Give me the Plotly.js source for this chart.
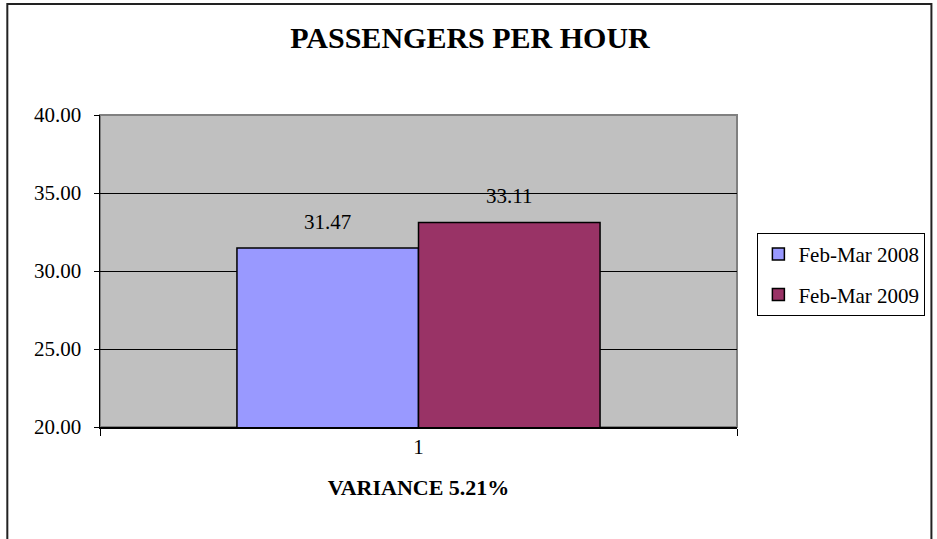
<!DOCTYPE html>
<html>
<head>
<meta charset="utf-8">
<script src="https://cdn.plot.ly/plotly-3.0.1.min.js"></script>
<style>html,body{margin:0;padding:0;background:#fff;}</style>
</head>
<body>
<div id="c1"></div>
<script>
const categories = ["1"];
const seriesNames = ["Feb-Mar 2008", "Feb-Mar 2009"];
const values2008 = [31.47];
const values2009 = [33.11];
const seriesColors = ["#9999FF", "#993366"];
const titleText = "PASSENGERS PER HOUR";
const xTitleText = "VARIANCE 5.21%";

const FONT = "Liberation Serif";
const bargap = 0.43;

const traces = [values2008, values2009].map((vals, i) => ({
  type: "bar",
  name: seriesNames[i],
  x: categories,
  y: vals,
  legendgroup: "g" + i,
  marker: {color: seriesColors[i], line: {color: "#000", width: 1.5}},
  hoverinfo: "none"
}));

// data labels above each bar (grouped bar centres derived from bargap)
const half = (1 - bargap) / 4;
const annotations = [];
[values2008, values2009].forEach((vals, i) => {
  vals.forEach((v, j) => {
    annotations.push({
      x: j + (i === 0 ? -half : half), y: v, xref: "x", yref: "y",
      text: v.toFixed(2), showarrow: false, yanchor: "bottom", yshift: 12,
      font: {family: FONT, size: 21, color: "#000"}
    });
  });
});

const layout = {
  width: 937, height: 539,
  margin: {l: 100, r: 198, t: 115, b: 112},
  paper_bgcolor: "#fff",
  plot_bgcolor: "#C0C0C0",
  font: {family: FONT, size: 21, color: "#000"},
  title: {text: "<b>" + titleText + "</b>", x: 0.5016, xanchor: "center", y: 0.93, yanchor: "middle",
          font: {family: FONT, size: 30, color: "#000"}},
  barmode: "group",
  bargap: bargap,
  bargroupgap: 0,
  showlegend: true,
  legend: {x: 1.032, xanchor: "left", y: 0.622, yanchor: "top",
           bgcolor: "#fff", bordercolor: "#000", borderwidth: 1,
           font: {family: FONT, size: 21, color: "#000"},
           traceorder: "grouped", tracegroupgap: 10},
  xaxis: {type: "category", range: [-0.5, 0.5], showgrid: false, zeroline: false,
          showline: true, linecolor: "#000", linewidth: 1.5,
          ticks: "outside", ticklen: 7, tickcolor: "#000", tickwidth: 1, tickson: "boundaries",
          tickfont: {family: FONT, size: 21, color: "#000"},
          title: {text: "<b>" + xTitleText + "</b>", standoff: 22, font: {family: FONT, size: 22, color: "#000"}}},
  yaxis: {range: [20, 40], dtick: 5, tick0: 20, tickformat: ".2f",
          showgrid: true, gridcolor: "#000", gridwidth: 1, zeroline: false,
          showline: true, linecolor: "#000", linewidth: 1.5,
          ticks: "outside", ticklen: 5, tickcolor: "#000", tickwidth: 1,
          ticklabelstandoff: 8,
          tickfont: {family: FONT, size: 21, color: "#000"}},
  annotations: annotations,
  shapes: [
    {type: "rect", xref: "paper", yref: "paper", x0: 0, x1: 1, y0: 0, y1: 1,
     line: {color: "#808080", width: 2}, fillcolor: "rgba(0,0,0,0)", layer: "below"},
    {type: "rect", xref: "paper", yref: "paper", x0: -0.1455, x1: 1.3052, y0: -0.4, y1: 1.3558,
     line: {color: "#222", width: 2}, fillcolor: "rgba(0,0,0,0)"}
  ]
};

Plotly.newPlot("c1", traces, layout, {displayModeBar: false, staticPlot: true});
</script>
</body>
</html>
